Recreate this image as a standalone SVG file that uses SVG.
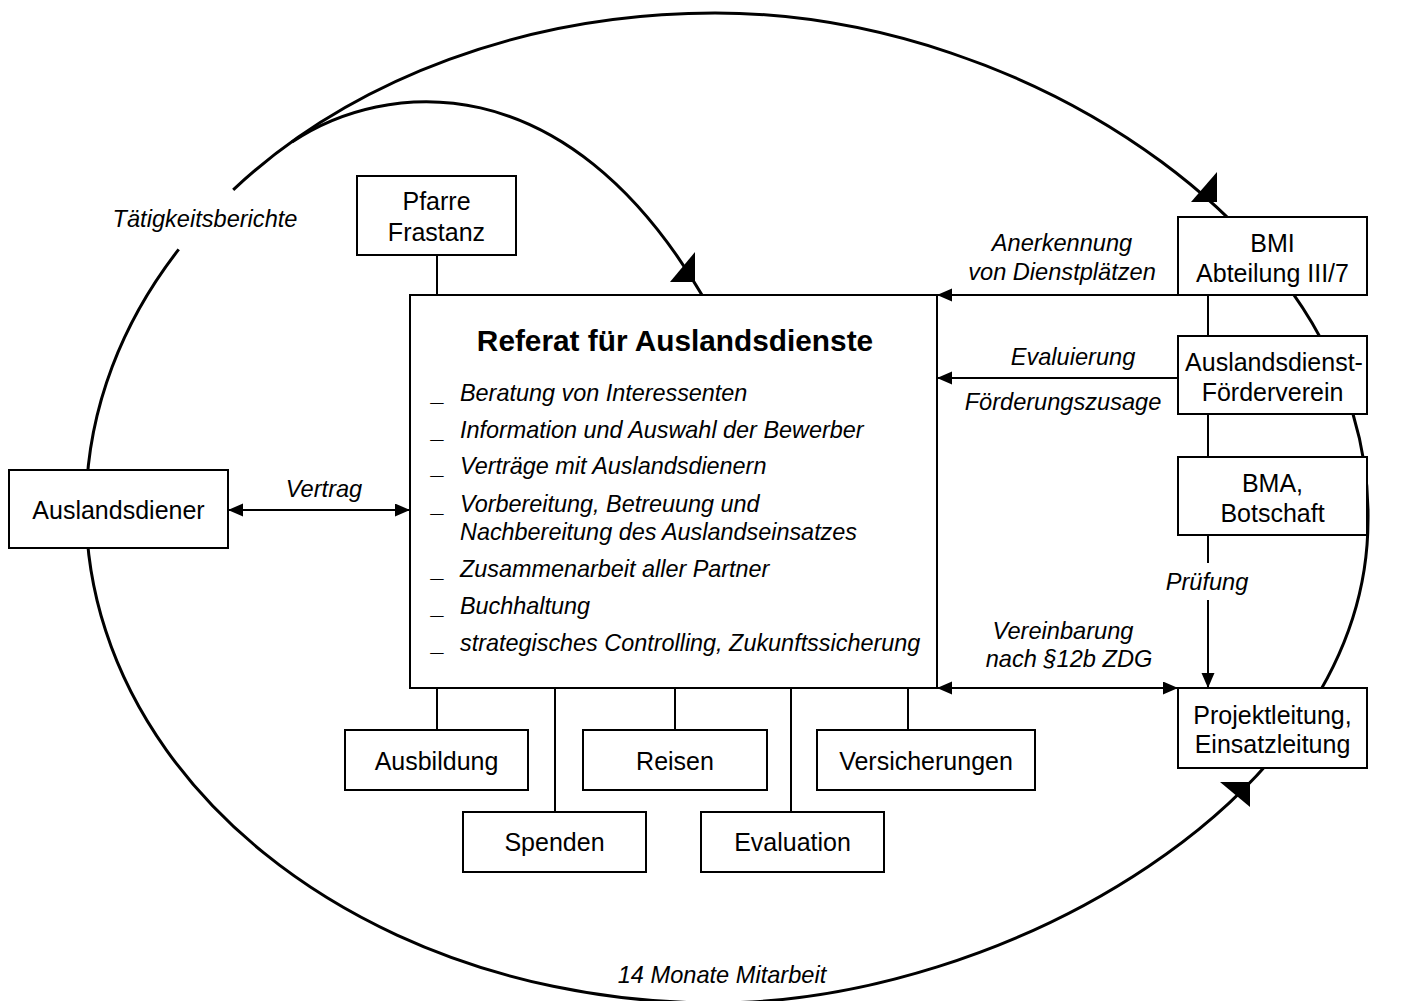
<svg xmlns="http://www.w3.org/2000/svg" width="1402" height="1001" viewBox="0 0 1402 1001">
<style>
  .box { fill: #ffffff; stroke: #000000; stroke-width: 2; }
  .t { font-family: "Liberation Sans", Arial, sans-serif; font-size: 25px; fill: #000; text-anchor: middle; }
  .it { font-family: "Liberation Sans", Arial, sans-serif; font-size: 23.4px; font-style: italic; fill: #000; }
  .lbl { font-family: "Liberation Sans", Arial, sans-serif; font-size: 23.6px; font-style: italic; fill: #000; text-anchor: middle; }
  .title { font-family: "Liberation Sans", Arial, sans-serif; font-size: 29.8px; font-weight: bold; fill: #000; text-anchor: middle; }
  .curve { fill: none; stroke: #000; stroke-width: 3; }
  .ln { fill: none; stroke: #000; stroke-width: 2; }
  .head { fill: #000; stroke: none; }
</style>
<defs>
  <marker id="arr" markerUnits="userSpaceOnUse" markerWidth="16" markerHeight="14" refX="15" refY="6.5" orient="auto-start-reverse">
    <path d="M0,0 L15,6.5 L0,13 z" fill="#000"/>
  </marker>
</defs>

<g id="connectors">
  <!-- big cycle -->
  <path class="curve" d="M233.2,189.8 A629,495 0 0,1 715,13 C1030,13 1372,240 1368,520 C1368,800 1000,1003 715,1003 A629,495 0 0,1 178.7,249.4"/>
  <!-- inner arc to Referat -->
  <path class="curve" d="M292,142 C385,80 565,62 702,295"/>
  <polygon class="head" points="1217,172 1217,202 1191,202"/>
  <polygon class="head" points="695,252 695,282 670,282"/>
  <polygon class="head" points="1220,782 1250,782 1250,807"/>

  <!-- straight connectors -->
  <line class="ln" x1="437" y1="255" x2="437" y2="295"/>
  <line class="ln" x1="1208" y1="295" x2="1208" y2="336"/>
  <line class="ln" x1="1208" y1="414" x2="1208" y2="457"/>
  <line class="ln" x1="1208" y1="535" x2="1208" y2="563"/>
  <line class="ln" x1="1208" y1="600" x2="1208" y2="688" marker-end="url(#arr)"/>
  <line class="ln" x1="1178" y1="295" x2="937" y2="295" marker-end="url(#arr)"/>
  <line class="ln" x1="1178" y1="378" x2="937" y2="378" marker-end="url(#arr)"/>
  <line class="ln" x1="937" y1="688" x2="1178" y2="688" marker-start="url(#arr)" marker-end="url(#arr)"/>
  <line class="ln" x1="228" y1="510" x2="410" y2="510" marker-start="url(#arr)" marker-end="url(#arr)"/>
  <line class="ln" x1="437" y1="688" x2="437" y2="730"/>
  <line class="ln" x1="555" y1="688" x2="555" y2="812"/>
  <line class="ln" x1="675" y1="688" x2="675" y2="730"/>
  <line class="ln" x1="791" y1="688" x2="791" y2="812"/>
  <line class="ln" x1="908" y1="688" x2="908" y2="730"/>

  <!-- connector labels -->
  <text class="lbl" x="205" y="227">Tätigkeitsberichte</text>
  <text class="lbl" x="1062" y="251">Anerkennung</text>
  <text class="lbl" x="1062" y="280">von Dienstplätzen</text>
  <text class="lbl" x="1073" y="365">Evaluierung</text>
  <text class="lbl" x="1063" y="410">Förderungszusage</text>
  <text class="lbl" x="324" y="497">Vertrag</text>
  <text class="lbl" x="1207" y="590">Prüfung</text>
  <text class="lbl" x="1063" y="639">Vereinbarung</text>
  <text class="lbl" x="1069" y="667">nach §12b ZDG</text>
  <text class="lbl" x="722" y="983">14 Monate Mitarbeit</text>
</g>

<g id="referat">
  <rect class="box" x="410" y="295" width="527" height="393"/>
  <text class="title" x="675" y="351">Referat für Auslandsdienste</text>
  <text class="it" x="432" y="401">_</text>
  <text class="it" x="460" y="401">Beratung von Interessenten</text>
  <text class="it" x="432" y="438">_</text>
  <text class="it" x="460" y="438">Information und Auswahl der Bewerber</text>
  <text class="it" x="432" y="474">_</text>
  <text class="it" x="460" y="474">Verträge mit Auslandsdienern</text>
  <text class="it" x="432" y="512">_</text>
  <text class="it" x="460" y="512">Vorbereitung, Betreuung und</text>
  <text class="it" x="460" y="540">Nachbereitung des Auslandseinsatzes</text>
  <text class="it" x="432" y="577">_</text>
  <text class="it" x="460" y="577">Zusammenarbeit aller Partner</text>
  <text class="it" x="432" y="614">_</text>
  <text class="it" x="460" y="614">Buchhaltung</text>
  <text class="it" x="432" y="651">_</text>
  <text class="it" x="460" y="651">strategisches Controlling, Zukunftssicherung</text>
</g>

<g id="pfarre">
  <rect class="box" x="357" y="176" width="159" height="79"/>
  <text class="t" x="436.5" y="210">Pfarre</text>
  <text class="t" x="436.5" y="241">Frastanz</text>
</g>

<g id="auslandsdiener">
  <rect class="box" x="9" y="470" width="219" height="78"/>
  <text class="t" x="118.5" y="519">Auslandsdiener</text>
</g>

<g id="bmi">
  <rect class="box" x="1178" y="217" width="189" height="78"/>
  <text class="t" x="1272.5" y="252">BMI</text>
  <text class="t" x="1272.5" y="282">Abteilung III/7</text>
</g>

<g id="foerderverein">
  <rect class="box" x="1178" y="336" width="189" height="78"/>
  <text class="t" x="1274" y="371">Auslandsdienst-</text>
  <text class="t" x="1272.5" y="401">Förderverein</text>
</g>

<g id="bma">
  <rect class="box" x="1178" y="457" width="189" height="78"/>
  <text class="t" x="1272.5" y="492">BMA,</text>
  <text class="t" x="1272.5" y="522">Botschaft</text>
</g>

<g id="projektleitung">
  <rect class="box" x="1178" y="688" width="189" height="80"/>
  <text class="t" x="1272.5" y="724">Projektleitung,</text>
  <text class="t" x="1272.5" y="753">Einsatzleitung</text>
</g>

<g id="ausbildung">
  <rect class="box" x="345" y="730" width="183" height="60"/>
  <text class="t" x="436.5" y="770">Ausbildung</text>
</g>

<g id="reisen">
  <rect class="box" x="583" y="730" width="184" height="60"/>
  <text class="t" x="675" y="770">Reisen</text>
</g>

<g id="versicherungen">
  <rect class="box" x="817" y="730" width="218" height="60"/>
  <text class="t" x="926" y="770">Versicherungen</text>
</g>

<g id="spenden">
  <rect class="box" x="463" y="812" width="183" height="60"/>
  <text class="t" x="554.5" y="851">Spenden</text>
</g>

<g id="evaluation">
  <rect class="box" x="701" y="812" width="183" height="60"/>
  <text class="t" x="792.5" y="851">Evaluation</text>
</g>
</svg>
